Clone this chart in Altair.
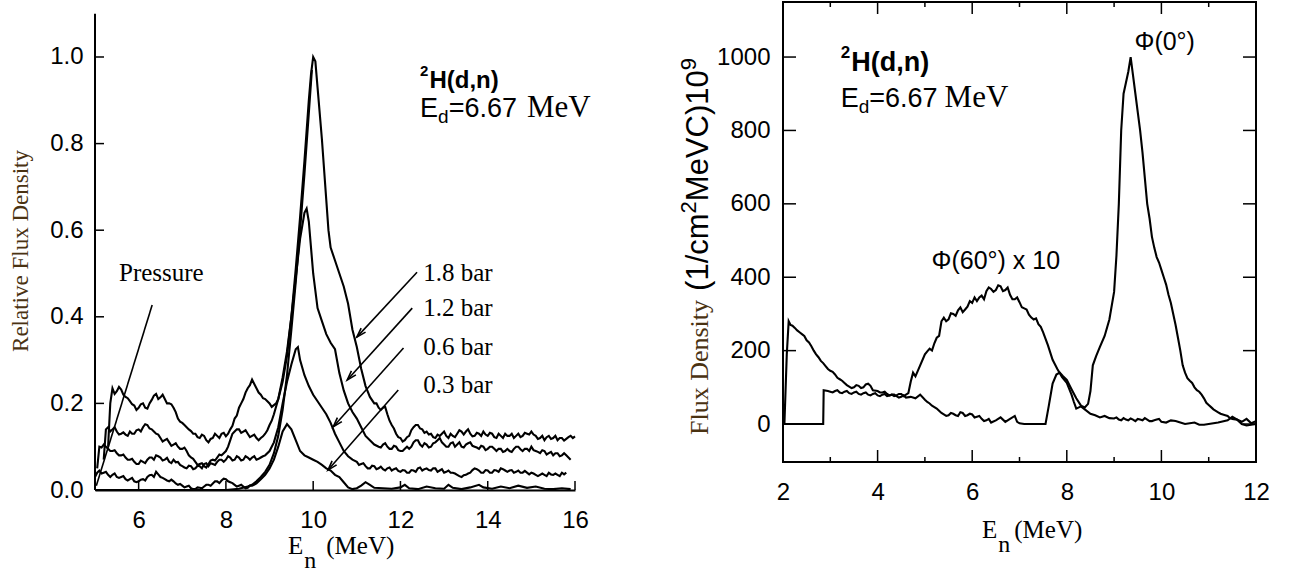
import math
import altair as alt
import pandas as pd

# ---------------- left panel data: relative flux density vs E_n (MeV) ----------------
P18 = [(5.3,0.10),(5.35,0.2),(5.4,0.235),(5.5,0.228),(5.6,0.232),(5.7,0.215),(5.8,0.205),(5.9,0.195),(6.0,0.19),(6.1,0.2),(6.2,0.188),(6.3,0.208),(6.4,0.222),(6.5,0.214),(6.6,0.21),(6.7,0.2),(6.8,0.19),(6.9,0.165),(7.0,0.155),(7.1,0.145),(7.2,0.136),(7.3,0.13),(7.4,0.12),(7.5,0.125),(7.6,0.11),(7.7,0.12),(7.8,0.125),(7.9,0.13),(8.0,0.124),(8.1,0.14),(8.2,0.165),(8.3,0.19),(8.4,0.21),(8.5,0.235),(8.6,0.255),(8.7,0.235),(8.8,0.22),(8.9,0.21),(9.0,0.2),(9.1,0.196),(9.2,0.21),(9.3,0.25),(9.4,0.31),(9.5,0.4),(9.6,0.51),(9.7,0.63),(9.8,0.76),(9.9,0.9),(9.95,0.96),(10.0,1.0),(10.05,0.99),(10.1,0.93),(10.2,0.81),(10.3,0.67),(10.35,0.6),(10.4,0.56),(10.5,0.53),(10.6,0.5),(10.7,0.47),(10.8,0.43),(10.9,0.37),(11.0,0.33),(11.1,0.28),(11.2,0.24),(11.3,0.215),(11.4,0.2),(11.5,0.19),(11.6,0.19),(11.7,0.175),(11.8,0.15),(11.9,0.13),(12.0,0.12),(12.1,0.115),(12.2,0.125),(12.3,0.145),(12.4,0.15),(12.5,0.14),(12.6,0.135),(12.7,0.13),(12.8,0.12),(12.9,0.125),(13.0,0.135),(13.1,0.12),(13.2,0.125),(13.3,0.13),(13.4,0.135),(13.5,0.135),(13.6,0.13),(13.7,0.125),(13.8,0.13),(13.9,0.135),(14.0,0.125),(14.1,0.13),(14.2,0.12),(14.3,0.125),(14.4,0.13),(14.5,0.125),(14.6,0.12),(14.7,0.13),(14.8,0.125),(14.9,0.13),(15.0,0.135),(15.1,0.125),(15.2,0.12),(15.3,0.115),(15.4,0.125),(15.5,0.12),(15.6,0.115),(15.7,0.12),(15.8,0.118),(15.9,0.125),(16.0,0.124)]
P18_FINE = [(5.45,0.222),(5.55,0.238),(5.65,0.22),(5.75,0.212),(5.85,0.198),(5.95,0.185),(6.05,0.198),(6.15,0.19),(6.25,0.2),(6.35,0.218),(6.45,0.21),(6.55,0.22),(6.65,0.2),(6.75,0.198),(6.85,0.18),(6.95,0.158),(7.05,0.15),(7.15,0.14),(7.25,0.13),(7.35,0.122),(7.45,0.128),(7.55,0.115),(7.65,0.118),(7.75,0.13),(7.85,0.12),(7.95,0.132),(8.05,0.13),(8.15,0.148),(8.25,0.172),(8.35,0.2),(8.45,0.225),(8.55,0.242),(8.65,0.245),(8.75,0.225),(8.85,0.212),(8.95,0.205),(9.05,0.192),(9.15,0.2),(11.45,0.2),(11.55,0.185),(11.65,0.192),(11.75,0.16),(11.85,0.142),(11.95,0.122),(12.05,0.112),(12.15,0.122),(12.25,0.138),(12.35,0.15),(12.45,0.142),(12.55,0.132),(12.65,0.128),(12.75,0.122),(12.85,0.128),(12.95,0.13),(13.05,0.125),(13.15,0.13),(13.25,0.122),(13.35,0.138),(13.45,0.128),(13.55,0.14),(13.65,0.124),(13.75,0.132),(13.85,0.125),(13.95,0.128),(14.05,0.132),(14.15,0.122),(14.25,0.13),(14.35,0.12),(14.45,0.125),(14.55,0.13),(14.65,0.125),(14.75,0.122),(14.85,0.132),(14.95,0.128),(15.05,0.128),(15.15,0.118),(15.25,0.125),(15.35,0.122),(15.45,0.118),(15.55,0.125),(15.65,0.12),(15.75,0.114),(15.85,0.122),(15.95,0.12)]
P12 = [(5.2,0.07),(5.25,0.14),(5.3,0.145),(5.4,0.14),(5.5,0.135),(5.6,0.13),(5.7,0.128),(5.8,0.135),(5.9,0.13),(6.0,0.14),(6.1,0.145),(6.2,0.15),(6.3,0.14),(6.4,0.13),(6.5,0.12),(6.6,0.115),(6.7,0.11),(6.8,0.105),(6.9,0.1),(7.0,0.095),(7.1,0.09),(7.2,0.075),(7.3,0.065),(7.4,0.06),(7.5,0.055),(7.6,0.06),(7.7,0.07),(7.8,0.075),(7.9,0.08),(8.0,0.09),(8.1,0.115),(8.2,0.135),(8.3,0.14),(8.4,0.135),(8.5,0.13),(8.6,0.125),(8.7,0.12),(8.8,0.12),(8.9,0.13),(9.0,0.15),(9.1,0.175),(9.2,0.21),(9.3,0.26),(9.4,0.32),(9.5,0.4),(9.6,0.49),(9.7,0.58),(9.8,0.64),(9.85,0.65),(9.9,0.62),(10.0,0.5),(10.1,0.42),(10.2,0.39),(10.3,0.36),(10.4,0.34),(10.5,0.325),(10.6,0.27),(10.7,0.23),(10.8,0.2),(10.9,0.18),(11.0,0.165),(11.1,0.145),(11.2,0.125),(11.3,0.115),(11.4,0.105),(11.5,0.1),(11.6,0.105),(11.7,0.1),(11.8,0.095),(11.9,0.1),(12.0,0.09),(12.1,0.095),(12.2,0.095),(12.3,0.11),(12.4,0.115),(12.5,0.1),(12.6,0.105),(12.7,0.1),(12.8,0.11),(12.9,0.12),(13.0,0.105),(13.1,0.1),(13.2,0.11),(13.3,0.105),(13.4,0.1),(13.5,0.105),(13.6,0.11),(13.7,0.1),(13.8,0.095),(13.9,0.1),(14.0,0.095),(14.1,0.1),(14.2,0.09),(14.3,0.095),(14.4,0.09),(14.5,0.09),(14.6,0.095),(14.7,0.1),(14.8,0.09),(14.9,0.095),(15.0,0.1),(15.1,0.09),(15.2,0.085),(15.3,0.09),(15.4,0.085),(15.5,0.08),(15.6,0.085),(15.7,0.08),(15.8,0.08),(15.9,0.07)]
P12_FINE = [(5.35,0.135),(5.45,0.145),(5.55,0.128),(5.65,0.133),(5.75,0.125),(5.85,0.13),(5.95,0.138),(6.05,0.135),(6.15,0.152),(6.25,0.142),(6.35,0.135),(6.45,0.128),(6.55,0.112),(6.65,0.118),(6.75,0.102),(6.85,0.108),(6.95,0.095),(7.05,0.098),(7.15,0.08),(7.25,0.072),(7.35,0.058),(7.45,0.062),(7.55,0.052),(7.65,0.068),(7.75,0.068),(7.85,0.082),(7.95,0.085),(8.05,0.1),(8.15,0.13),(8.25,0.14),(8.35,0.132),(8.45,0.138),(8.55,0.122),(8.65,0.128),(8.75,0.115),(8.85,0.124),(8.95,0.138),(9.05,0.16),(11.55,0.098),(11.65,0.108),(11.75,0.095),(11.85,0.102),(11.95,0.092),(12.05,0.09),(12.15,0.1),(12.25,0.1),(12.35,0.115),(12.45,0.105),(12.55,0.108),(12.65,0.098),(12.75,0.108),(12.85,0.115),(12.95,0.11),(13.05,0.1),(13.15,0.108),(13.25,0.1),(13.35,0.11),(13.45,0.098),(13.55,0.108),(13.65,0.102),(13.75,0.098),(13.85,0.102),(13.95,0.092),(14.05,0.1),(14.15,0.095),(14.25,0.095),(14.35,0.088),(14.45,0.095),(14.55,0.088),(14.65,0.1),(14.75,0.094),(14.85,0.095),(14.95,0.09),(15.05,0.092),(15.15,0.088),(15.25,0.092),(15.35,0.082),(15.45,0.088),(15.55,0.085),(15.65,0.078),(15.75,0.085),(15.85,0.075)]
P06 = [(5.05,0.05),(5.1,0.1),(5.2,0.105),(5.3,0.095),(5.4,0.09),(5.5,0.085),(5.6,0.08),(5.7,0.075),(5.8,0.07),(5.9,0.065),(6.0,0.06),(6.1,0.065),(6.2,0.07),(6.3,0.075),(6.4,0.08),(6.5,0.075),(6.6,0.07),(6.7,0.065),(6.8,0.07),(6.9,0.065),(7.0,0.055),(7.1,0.05),(7.2,0.055),(7.3,0.05),(7.4,0.055),(7.5,0.06),(7.6,0.055),(7.7,0.06),(7.8,0.065),(7.9,0.07),(8.0,0.07),(8.1,0.075),(8.2,0.07),(8.3,0.075),(8.4,0.07),(8.5,0.075),(8.6,0.075),(8.7,0.07),(8.8,0.075),(8.9,0.08),(9.0,0.09),(9.1,0.11),(9.2,0.145),(9.3,0.2),(9.4,0.25),(9.5,0.29),(9.6,0.325),(9.65,0.33),(9.7,0.3),(9.8,0.265),(9.9,0.24),(10.0,0.22),(10.1,0.205),(10.2,0.19),(10.3,0.175),(10.4,0.155),(10.5,0.13),(10.6,0.11),(10.7,0.09),(10.8,0.078),(10.9,0.07),(11.0,0.065),(11.1,0.06),(11.2,0.055),(11.3,0.05),(11.4,0.055),(11.5,0.05),(11.6,0.048),(11.7,0.05),(11.8,0.045),(11.9,0.05),(12.0,0.042),(12.1,0.045),(12.2,0.04),(12.3,0.045),(12.4,0.05),(12.5,0.045),(12.6,0.05),(12.7,0.045),(12.8,0.05),(12.9,0.045),(13.0,0.04),(13.1,0.045),(13.2,0.04),(13.3,0.035),(13.4,0.03),(13.5,0.035),(13.6,0.04),(13.7,0.05),(13.8,0.045),(13.9,0.04),(14.0,0.045),(14.1,0.04),(14.2,0.045),(14.3,0.05),(14.4,0.045),(14.5,0.045),(14.6,0.04),(14.7,0.045),(14.8,0.04),(14.9,0.04),(15.0,0.04),(15.1,0.035),(15.2,0.035),(15.3,0.035),(15.4,0.04),(15.5,0.035),(15.6,0.035),(15.7,0.04),(15.8,0.04)]
P06_FINE = [(5.15,0.098),(5.25,0.1),(5.35,0.09),(5.45,0.092),(5.55,0.08),(5.65,0.082),(5.75,0.07),(5.85,0.072),(5.95,0.06),(6.05,0.068),(6.15,0.062),(6.25,0.075),(6.35,0.07),(6.45,0.078),(6.55,0.068),(6.65,0.074),(6.75,0.062),(6.85,0.064),(6.95,0.058),(7.05,0.052),(7.15,0.056),(7.25,0.048),(7.35,0.056),(7.45,0.05),(7.55,0.062),(7.65,0.062),(7.75,0.058),(7.85,0.07),(7.95,0.065),(8.05,0.078),(8.15,0.068),(8.25,0.078),(8.35,0.068),(8.45,0.078),(8.55,0.07),(8.65,0.078),(8.75,0.072),(8.85,0.078),(11.05,0.058),(11.15,0.062),(11.25,0.05),(11.35,0.056),(11.45,0.048),(11.55,0.054),(11.65,0.045),(11.75,0.052),(11.85,0.048),(11.95,0.044),(12.05,0.046),(12.15,0.04),(12.25,0.046),(12.35,0.042),(12.45,0.052),(12.55,0.048),(12.65,0.046),(12.75,0.05),(12.85,0.042),(12.95,0.048),(13.05,0.042),(13.15,0.04),(13.25,0.038),(13.35,0.032),(13.45,0.034),(13.55,0.038),(13.65,0.046),(13.75,0.048),(13.85,0.04),(13.95,0.046),(14.05,0.04),(14.15,0.046),(14.25,0.042),(14.35,0.048),(14.45,0.042),(14.55,0.046),(14.65,0.042),(14.75,0.04),(14.85,0.044),(14.95,0.036),(15.05,0.038),(15.15,0.032),(15.25,0.038),(15.35,0.032),(15.45,0.036),(15.55,0.038),(15.65,0.032),(15.75,0.036)]
P03 = [(5.0,0.03),(5.1,0.045),(5.2,0.04),(5.3,0.035),(5.4,0.035),(5.5,0.03),(5.6,0.03),(5.7,0.025),(5.8,0.025),(5.9,0.02),(6.0,0.02),(6.1,0.025),(6.2,0.03),(6.3,0.035),(6.4,0.042),(6.5,0.03),(6.6,0.025),(6.7,0.02),(6.8,0.02),(6.9,0.012),(7.0,0.01),(7.1,0.008),(7.2,0.004),(7.3,0.002),(7.4,0.005),(7.5,0.008),(7.6,0.012),(7.7,0.015),(7.8,0.02),(7.9,0.022),(8.0,0.025),(8.1,0.018),(8.2,0.012),(8.3,0.01),(8.4,0.008),(8.5,0.005),(8.6,0.01),(8.7,0.015),(8.8,0.025),(8.9,0.035),(9.0,0.05),(9.1,0.07),(9.2,0.1),(9.3,0.135),(9.4,0.152),(9.5,0.14),(9.6,0.115),(9.7,0.09),(9.8,0.08),(9.9,0.075),(10.0,0.07),(10.1,0.065),(10.2,0.058),(10.3,0.05),(10.4,0.045),(10.5,0.035),(10.6,0.03),(10.7,0.018),(10.8,0.006),(10.9,0.002),(11.0,0.004),(11.1,0.01),(11.2,0.018),(11.3,0.012),(11.4,0.005),(11.6,0.004),(11.8,0.003),(12.0,0.006),(12.1,0.012),(12.2,0.004),(12.4,0.002),(12.6,0.008),(12.8,0.004),(13.0,0.003),(13.1,0.012),(13.2,0.005),(13.4,0.002),(13.6,0.006),(13.8,0.012),(13.9,0.006),(14.1,0.003),(14.3,0.008),(14.5,0.004),(14.7,0.01),(14.9,0.005),(15.1,0.008),(15.3,0.003),(15.5,0.002),(15.7,0.004),(15.9,0.002)]
P03_FINE = [(5.05,0.04),(5.15,0.038),(5.25,0.042),(5.35,0.03),(5.45,0.038),(5.55,0.028),(5.65,0.032),(5.75,0.022),(5.85,0.028),(5.95,0.018),(6.05,0.024),(6.15,0.022),(6.25,0.034),(6.35,0.03),(6.45,0.036),(6.55,0.028),(6.65,0.022),(6.75,0.024),(6.85,0.015),(6.95,0.014),(7.05,0.006),(7.15,0.01),(7.25,0.002),(7.35,0.006),(7.45,0.004),(7.55,0.012),(7.65,0.01),(7.75,0.02),(7.85,0.016),(7.95,0.026),(8.05,0.02),(8.15,0.016),(8.25,0.008),(8.35,0.012),(8.45,0.004),(8.55,0.01)]
CALC = [(5.0,0.0),(6.0,0.0),(7.0,0.0),(8.0,0.0),(8.3,0.003),(8.5,0.008),(8.6,0.012),(8.7,0.02),(8.8,0.03),(8.9,0.042),(9.0,0.058),(9.1,0.085),(9.2,0.125),(9.3,0.185),(9.4,0.265),(9.5,0.37),(9.6,0.48),(9.7,0.6),(9.8,0.73),(9.9,0.87),(9.97,0.97)]
PRESSURE_LINE = [(5.03, 0.01, 6.31, 0.427)]
ARROWS = [(12.38, 0.503, 11.0, 0.353), (12.27, 0.42, 10.78, 0.254),
          (12.07, 0.328, 10.46, 0.146), (11.95, 0.231, 10.34, 0.046)]
BAR_LABELS = ["1.8 bar", "1.2 bar", "0.6 bar", "0.3 bar"]
BAR_LABEL_Y = [0.50, 0.42, 0.33, 0.243]
L_XTICKS = [6, 8, 10, 12, 14, 16]
L_YTICKS = [0.0, 0.2, 0.4, 0.6, 0.8, 1.0]

# ---------------- right panel data: flux density vs E_n (MeV) ----------------
PHI0 = [(2.0,0),(2.03,0),(2.08,190),(2.12,280),(2.16,270),(2.2,268),(2.3,255),(2.4,245),(2.5,228),(2.6,212),(2.7,190),(2.8,172),(2.9,158),(3.0,145),(3.1,135),(3.2,122),(3.3,112),(3.4,102),(3.5,100),(3.6,104),(3.7,100),(3.8,110),(3.85,104),(3.9,92),(4.0,90),(4.1,86),(4.2,82),(4.3,80),(4.4,76),(4.5,74),(4.6,72),(4.7,74),(4.8,70),(4.9,80),(5.0,66),(5.1,56),(5.2,46),(5.3,36),(5.4,26),(5.5,24),(5.6,28),(5.7,22),(5.8,30),(5.9,24),(6.0,26),(6.1,20),(6.2,14),(6.3,10),(6.4,4),(6.5,10),(6.6,18),(6.7,6),(6.8,14),(6.9,22),(6.95,6),(7.0,2),(7.1,0),(7.3,0),(7.55,0),(7.62,50),(7.7,110),(7.78,135),(7.85,140),(7.92,130),(8.0,120),(8.1,95),(8.2,70),(8.3,50),(8.38,45),(8.45,55),(8.5,90),(8.55,160),(8.62,185),(8.7,210),(8.8,240),(8.9,285),(9.0,360),(9.05,460),(9.1,600),(9.15,800),(9.2,900),(9.25,930),(9.3,960),(9.35,1000),(9.4,950),(9.45,900),(9.5,850),(9.6,740),(9.7,600),(9.8,510),(9.9,455),(10.0,420),(10.1,380),(10.2,330),(10.3,270),(10.4,200),(10.45,160),(10.5,140),(10.6,118),(10.7,100),(10.8,88),(10.9,70),(11.0,52),(11.1,40),(11.2,32),(11.3,26),(11.4,22),(11.5,14),(11.6,12),(11.7,6),(11.8,14),(11.9,2),(12.0,8)]
PHI0_FINE = [(2.25,262),(2.35,250),(2.45,240),(2.55,222),(2.65,200),(2.75,182),(2.85,166),(2.95,150),(3.05,142),(3.15,126),(3.25,118),(3.35,106),(3.45,98),(3.55,106),(3.65,98),(3.75,108),(4.05,86),(4.15,88),(4.25,78),(4.35,80),(4.45,72),(4.55,78),(5.05,60),(5.15,50),(5.25,42),(5.35,30),(5.45,22),(5.55,30),(5.65,24),(5.75,32),(5.85,22),(5.95,28),(6.05,18),(6.15,22),(6.25,8),(6.35,14),(9.55,800),(9.65,670),(9.75,560),(9.85,480),(9.95,440),(10.05,400),(10.15,352),(10.25,300),(10.35,235),(10.55,125),(10.65,112),(10.75,92),(10.85,80),(10.95,58),(11.05,46),(11.15,36),(11.25,28),(11.35,24),(11.45,16)]
PHI60 = [(2.0,0),(2.85,0),(2.86,92),(2.95,90),(3.0,88),(3.1,90),(3.2,86),(3.3,88),(3.4,84),(3.5,86),(3.6,82),(3.7,84),(3.8,80),(3.9,82),(4.0,78),(4.1,80),(4.2,76),(4.3,80),(4.4,78),(4.5,82),(4.6,80),(4.65,84),(4.7,115),(4.75,140),(4.8,130),(4.9,160),(5.0,190),(5.1,205),(5.2,220),(5.3,240),(5.35,280),(5.4,290),(5.5,285),(5.6,300),(5.7,310),(5.8,305),(5.9,320),(6.0,330),(6.05,345),(6.1,335),(6.2,350),(6.3,362),(6.4,368),(6.5,365),(6.6,375),(6.7,365),(6.8,352),(6.9,340),(7.0,332),(7.1,315),(7.2,298),(7.3,285),(7.4,272),(7.5,250),(7.6,215),(7.7,175),(7.8,150),(7.9,128),(8.0,112),(8.1,80),(8.15,60),(8.2,42),(8.3,48),(8.4,38),(8.5,28),(8.6,24),(8.7,18),(8.8,22),(8.9,16),(9.0,15),(9.1,12),(9.2,16),(9.3,10),(9.4,12),(9.5,14),(9.6,10),(9.7,12),(9.8,8),(9.9,12),(10.0,6),(10.2,10),(10.4,4),(10.6,2),(10.8,-2),(11.0,0),(11.2,4),(11.4,10),(11.5,20),(11.6,12),(11.7,0),(11.8,-4),(12.0,0)]
PHI60_FINE = [(3.05,86),(3.15,92),(3.25,84),(3.35,90),(3.45,82),(3.55,88),(3.65,80),(3.75,86),(3.85,78),(3.95,84),(4.05,76),(4.15,82),(4.25,78),(4.35,76),(4.45,82),(4.55,76),(5.05,198),(5.15,200),(5.25,235),(5.45,280),(5.55,302),(5.65,295),(5.75,318),(5.85,312),(5.95,335),(6.15,345),(6.25,340),(6.35,372),(6.45,360),(6.55,378),(6.65,362),(6.75,372),(6.85,340),(6.95,345),(7.05,318),(7.15,312),(7.25,290),(7.35,288),(7.45,265),(9.05,18),(9.15,10),(9.25,12),(9.35,15),(9.45,8),(9.55,12),(9.65,16),(9.75,8),(9.85,10),(9.95,14),(10.1,4),(10.3,8),(10.5,0),(10.7,4),(10.9,-2)]
R_XTICKS = [2, 4, 6, 8, 10, 12]
R_XMINOR = [3, 5, 7, 9, 11]
R_YTICKS = [0, 200, 400, 600, 800, 1000]

# ---------------- layout ----------------
LW, LH = 480, 488
L_XDOM, L_YDOM = [5, 16], [0, 1.127]
RW, RH = 473, 460
R_XDOM, R_YDOM = [2, 12], [-103.5, 1150]
SANS, SERIF = "Liberation Sans", "Liberation Serif"
BROWN = "#4a3212"
LINE_W = 2.1

W_SANS = {' ':0.278,'(':0.333,')':0.333,'/':0.278,'.':0.278,'=':0.584,',':0.278,'c':0.5,'m':0.833,
          'M':0.833,'e':0.556,'V':0.667,'C':0.722,'E':0.667,'H':0.722,'d':0.556,'n':0.556,'x':0.5}
W_SANS_B = {'H':0.722,'(':0.333,')':0.333,'d':0.611,',':0.278,'n':0.611}
W_SERIF = {'M':0.889,'e':0.444,'V':0.722,' ':0.25,'(':0.333,')':0.333,'F':0.556,'l':0.278,'u':0.5,
           'x':0.5,'D':0.722,'n':0.5,'s':0.389,'i':0.278,'t':0.278,'y':0.5,'E':0.611}


def twidth(s, font, size, weight):
    if font == SERIF:
        tab, dflt = W_SERIF, 0.5
    elif weight == "bold":
        tab, dflt = W_SANS_B, 0.556
    else:
        tab, dflt = W_SANS, 0.556
    return sum(tab.get(c, dflt) for c in s) * size


def compose(segs, xenc, yenc, df, angle=0):
    """segs: (text, font, size, weight, dy, color, gap_before)"""
    out = []
    dx = 0.0
    for txt, font, size, weight, dy, color, gap in segs:
        dx += gap
        kw = dict(text=txt, font=font, fontSize=size, fontWeight=weight, align="left",
                  baseline="alphabetic", dx=dx, dy=dy, color=color)
        if angle:
            kw["angle"] = angle
        out.append(alt.Chart(df).mark_text(**kw).encode(x=xenc, y=yenc))
        dx += twidth(txt, font, size, weight)
    return out


def arrow_angle(x1, y1, x2, y2, px, py):
    dxs = (x2 - x1) * px
    dys = -(y2 - y1) * py
    return math.degrees(math.atan2(dxs, -dys)) % 360


ARROW_PATH = "M -0.5 1.6 L 0 0 L 0.5 1.6"
one = pd.DataFrame({"a": [0]})


def ldf(x, y):
    return pd.DataFrame({"x": [x], "y": [y]})


# ================= LEFT PANEL =================
xsL = alt.Scale(domain=L_XDOM, nice=False, zero=False)
ysL = alt.Scale(domain=L_YDOM, nice=False, zero=False)
LPX = LW / (L_XDOM[1] - L_XDOM[0])
LPY = LH / (L_YDOM[1] - L_YDOM[0])

rows = []
for name, pts in [("1.8 bar", P18 + P18_FINE), ("1.2 bar", P12 + P12_FINE), ("0.6 bar", P06 + P06_FINE),
                  ("0.3 bar", P03 + P03_FINE), ("calc", CALC)]:
    rows += [{"s": name, "x": a, "y": b} for a, b in sorted(pts)]
dfL = pd.DataFrame(rows)

axLx = alt.Axis(values=L_XTICKS, domain=True, domainColor="black", domainWidth=2, ticks=False,
                labelPadding=18, title="", grid=False, labelFlush=False, labelOverlap=False,
                labelFont=SANS, labelFontSize=24, labelColor="black")
axLy = alt.Axis(values=L_YTICKS, format=".1f", domain=False, ticks=False, labelPadding=12,
                title="", grid=False, labelFlush=False, labelOverlap=False,
                labelFont=SANS, labelFontSize=24, labelColor="black", labelBaseline="middle")

curvesL = alt.Chart(dfL).mark_line(color="black", strokeWidth=LINE_W).encode(
    x=alt.X("x:Q", scale=xsL, axis=axLx), y=alt.Y("y:Q", scale=ysL, axis=axLy), detail="s:N")

LX = alt.X("x:Q", scale=xsL, axis=None)
LY = alt.Y("y:Q", scale=ysL, axis=None)

yline = alt.Chart(pd.DataFrame({"y": [0.0], "y2": [1.1]})).mark_rule(color="black", strokeWidth=2).encode(
    x=alt.value(0), y=LY, y2="y2:Q")
ytk = alt.Chart(pd.DataFrame({"y": L_YTICKS[1:]})).mark_rule(color="black", strokeWidth=1.5).encode(
    y=LY, x=alt.value(0), x2=alt.value(9))
xtk = alt.Chart(pd.DataFrame({"x": L_XTICKS})).mark_rule(color="black", strokeWidth=1.5).encode(
    x=LX, y=alt.value(LH), y2=alt.value(LH - 9))

seg_df = pd.DataFrame([{"x": a, "y": b, "x2": c, "y2": d} for a, b, c, d in PRESSURE_LINE + ARROWS])
segs = alt.Chart(seg_df).mark_rule(color="black", strokeWidth=1.6).encode(x=LX, y=LY, x2="x2:Q", y2="y2:Q")
head_df = pd.DataFrame([{"x": c, "y": d, "ang": arrow_angle(a, b, c, d, LPX, LPY)} for a, b, c, d in ARROWS])
heads = alt.Chart(head_df).mark_point(shape=ARROW_PATH, filled=False, color="black", strokeWidth=1.6,
                                      size=144, opacity=1).encode(
    x=LX, y=LY, angle=alt.Angle("ang:Q", scale=None))

lab_df = pd.DataFrame({"x": [12.52] * 4, "y": BAR_LABEL_Y, "t": BAR_LABELS})
barlabels = alt.Chart(lab_df).mark_text(font=SERIF, fontSize=25, align="left", baseline="middle",
                                        color="black").encode(x=LX, y=LY, text="t:N")
press = alt.Chart(pd.DataFrame({"x": [5.55], "y": [0.50], "t": ["Pressure"]})).mark_text(
    font=SERIF, fontSize=25, align="left", baseline="middle", color="black").encode(x=LX, y=LY, text="t:N")

l_texts = []
l_texts += compose([("2", SANS, 15, "bold", -12, "black", 0), ("H(d,n)", SANS, 24, "bold", 0, "black", 1)],
                   LX, LY, ldf(12.45, 0.928))
l_texts += compose([("E", SANS, 27, "normal", 0, "black", 0), ("d", SANS, 19, "normal", 6, "black", 0),
                    ("=6.67", SANS, 27, "normal", 0, "black", 0), ("MeV", SERIF, 31, "normal", 0, "black", 10)],
                   LX, LY, ldf(12.45, 0.862))
l_texts.append(alt.Chart(one).mark_text(text="Relative Flux Density", font=SERIF, fontSize=23, angle=270,
                                        align="center", baseline="middle", color=BROWN).encode(
    x=alt.value(-74), y=alt.value(249)))
l_texts += compose([("E", SERIF, 25, "normal", 0, "black", 0), ("n", SERIF, 24, "normal", 14, "black", 1),
                    ("(MeV)", SERIF, 25, "normal", 0, "black", 10)],
                   alt.value(193), alt.value(552), one)

left = alt.layer(curvesL, yline, ytk, xtk, segs, heads, barlabels, press, *l_texts).properties(
    width=LW, height=LH).resolve_axis(x="independent", y="independent")

# ================= RIGHT PANEL =================
xsR = alt.Scale(domain=R_XDOM, nice=False, zero=False)
ysR = alt.Scale(domain=R_YDOM, nice=False, zero=False)
rows = [{"s": "0", "x": a, "y": b} for a, b in sorted(PHI0 + PHI0_FINE)]
rows += [{"s": "60", "x": a, "y": b} for a, b in sorted(PHI60 + PHI60_FINE)]
dfR = pd.DataFrame(rows)
axRx = alt.Axis(values=R_XTICKS, domain=False, ticks=False, labelPadding=18, title="", grid=False,
                labelFlush=False, labelOverlap=False, labelFont=SANS, labelFontSize=24, labelColor="black")
axRy = alt.Axis(values=R_YTICKS, format="d", domain=False, ticks=False, labelPadding=13, title="", grid=False,
                labelFlush=False, labelOverlap=False, labelFont=SANS, labelFontSize=24, labelColor="black",
                labelBaseline="middle")
curvesR = alt.Chart(dfR).mark_line(color="black", strokeWidth=LINE_W).encode(
    x=alt.X("x:Q", scale=xsR, axis=axRx), y=alt.Y("y:Q", scale=ysR, axis=axRy), detail="s:N")

frame = alt.Chart(one).mark_rect(fillOpacity=0, stroke="black", strokeWidth=2).encode(
    x=alt.value(0), x2=alt.value(RW), y=alt.value(0), y2=alt.value(RH))
RX = alt.X("x:Q", scale=xsR, axis=None)
RY = alt.Y("y:Q", scale=ysR, axis=None)
tk = []
tdf_maj = pd.DataFrame({"x": R_XTICKS[1:-1]})
tdf_min = pd.DataFrame({"x": R_XMINOR})
tdf_y = pd.DataFrame({"y": R_YTICKS})
tk.append(alt.Chart(tdf_maj).mark_rule(color="black", strokeWidth=1.5).encode(x=RX, y=alt.value(RH), y2=alt.value(RH - 12)))
tk.append(alt.Chart(tdf_min).mark_rule(color="black", strokeWidth=1.5).encode(x=RX, y=alt.value(RH), y2=alt.value(RH - 5)))
tk.append(alt.Chart(tdf_maj).mark_rule(color="black", strokeWidth=1.5).encode(x=RX, y=alt.value(0), y2=alt.value(12)))
tk.append(alt.Chart(tdf_min).mark_rule(color="black", strokeWidth=1.5).encode(x=RX, y=alt.value(0), y2=alt.value(5)))
tk.append(alt.Chart(tdf_y).mark_rule(color="black", strokeWidth=1.5).encode(y=RY, x=alt.value(0), x2=alt.value(13)))
tk.append(alt.Chart(tdf_y).mark_rule(color="black", strokeWidth=1.5).encode(y=RY, x=alt.value(RW), x2=alt.value(RW - 13)))

r_texts = []
r_texts += compose([("2", SANS, 17, "bold", -13, "black", 0), ("H(d,n)", SANS, 27, "bold", 0, "black", 1)],
                   RX, RY, ldf(3.22, 962))
r_texts += compose([("E", SANS, 27, "normal", 0, "black", 0), ("d", SANS, 19, "normal", 6, "black", 0),
                    ("=6.67", SANS, 27, "normal", 0, "black", 0), ("MeV", SERIF, 31, "normal", 0, "black", 7)],
                   RX, RY, ldf(3.22, 864))
phi_df = pd.DataFrame({"x": [9.43, 5.14], "y": [1040, 445], "t": ["Φ(0°)", "Φ(60°) x 10"]})
r_texts.append(alt.Chart(phi_df).mark_text(font=SANS, fontSize=25, align="left", baseline="middle",
                                           color="black").encode(x=RX, y=RY, text="t:N"))
r_texts += compose([("E", SERIF, 25, "normal", 0, "black", 0), ("n", SERIF, 24, "normal", 14, "black", 1),
                    ("(MeV)", SERIF, 25, "normal", 0, "black", 4)],
                   alt.value(199), alt.value(536), one)
r_texts += compose([("Flux Density", SERIF, 26, "normal", 0, BROWN, 0),
                    ("(1/cm", SANS, 31, "normal", 0, "black", 9),
                    ("2", SANS, 22, "normal", -12, "black", 0),
                    ("MeVC)10", SANS, 31, "normal", 0, "black", 0),
                    ("9", SANS, 22, "normal", -12, "black", 0)],
                   alt.value(-75), alt.value(433), one, angle=270)

right = alt.layer(curvesR, frame, *tk, *r_texts).properties(width=RW, height=RH).resolve_axis(
    x="independent", y="independent")

chart = alt.hconcat(left, right, spacing=208, bounds="flush").properties(
    padding={"left": 10, "top": 1, "right": 5, "bottom": 0}
).configure_view(stroke=None).configure_axis(grid=False)

chart.save("out.html", embed_options={"renderer": "svg", "actions": False})
